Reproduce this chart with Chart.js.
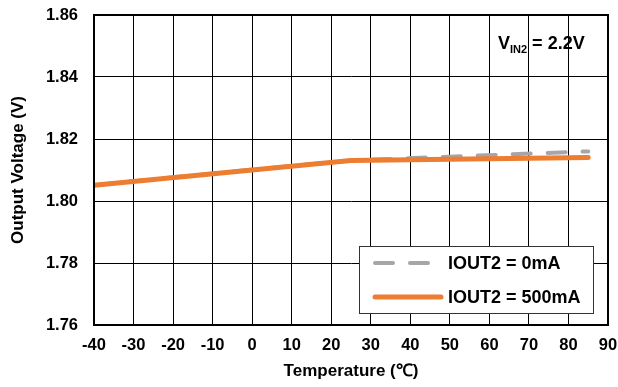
<!DOCTYPE html>
<html>
<head>
<meta charset="utf-8">
<script src="https://cdn.jsdelivr.net/npm/chart.js@4.4.0/dist/chart.umd.min.js"></script>
<style>
  html, body { margin: 0; padding: 0; background: #fff; }
  #wrap { width: 618px; height: 387px; position: relative; }
</style>
</head>
<body>
<div id="wrap"><canvas id="grafico"></canvas></div>
<script>
// dados
const temps0mA = [-40, 0, 25, 85];
const volts0mA = [1.8051, 1.8101, 1.8131, 1.8160];
const temps500mA = [-40, 0, 25, 85];
const volts500mA = [1.8051, 1.8100, 1.8131, 1.8140];

const xMin = -40, xMax = 90, xStep = 10;
const yMin = 1.76, yMax = 1.86, yStep = 0.02;

const FONTE = "'Liberation Sans', Arial, sans-serif";

function pontos(xs, ys) {
  return xs.map((x, i) => ({ x: x, y: ys[i] }));
}

// moldura, legenda dentro da área do gráfico + anotação VIN2
const legendaInterna = {
  id: "legendaInterna",
  afterDraw(chart) {
    const ctx = chart.ctx;
    const a = chart.chartArea;
    ctx.save();

    // moldura
    ctx.strokeStyle = "#000";
    ctx.lineWidth = 2;
    ctx.strokeRect(a.left, a.top, a.right - a.left, a.bottom - a.top);

    // caixa da legenda
    const bx = 359, by = 246, bw = 234, bh = 67;
    ctx.fillStyle = "#fff";
    ctx.fillRect(bx, by, bw, bh);
    ctx.strokeStyle = "#333";
    ctx.lineWidth = 1;
    ctx.strokeRect(bx + 0.5, by + 0.5, bw, bh);

    ctx.font = "bold 18px " + FONTE;
    ctx.textBaseline = "middle";
    ctx.fillStyle = "#000";
    chart.data.datasets.forEach((ds, i) => {
      const yy = by + 17 + i * 34;
      ctx.beginPath();
      ctx.strokeStyle = ds.borderColor;
      ctx.lineWidth = ds.borderWidth;
      ctx.lineCap = "round";
      ctx.setLineDash(ds.borderDash || []);
      ctx.moveTo(375, yy);
      ctx.lineTo(i === 0 ? 429 : 441, yy);
      ctx.stroke();
      ctx.setLineDash([]);
      ctx.fillText(ds.label, 448, yy + 1);
    });

    // VIN2 = 2.2V
    ctx.textBaseline = "alphabetic";
    ctx.font = "bold 18px " + FONTE;
    let x = 498;
    const base = 49;
    ctx.fillText("V", x, base);
    x += ctx.measureText("V").width;
    ctx.font = "bold 11px " + FONTE;
    ctx.fillText("IN2", x, base + 4);
    x += ctx.measureText("IN2").width;
    ctx.font = "bold 18px " + FONTE;
    ctx.fillText(" = 2.2V", x, base);

    ctx.restore();
  }
};

const chart = new Chart(document.getElementById("grafico"), {
  type: "line",
  data: {
    datasets: [
      {
        label: "IOUT2 = 0mA",
        data: pontos(temps0mA, volts0mA),
        borderColor: "#A6A6A6",
        borderWidth: 4,
        borderDash: [18, 17],
        borderCapStyle: "round",
        pointRadius: 0,
        tension: 0,
        order: 2
      },
      {
        label: "IOUT2 = 500mA",
        data: pontos(temps500mA, volts500mA),
        borderColor: "#ED7D31",
        borderWidth: 5,
        borderCapStyle: "round",
        pointRadius: 0,
        tension: 0,
        order: 1
      }
    ]
  },
  options: {
    responsive: true,
    maintainAspectRatio: false,
    animation: false,
    layout: { padding: { top: 15, right: 10, left: 0, bottom: 0 } },
    plugins: { legend: { display: false }, tooltip: { enabled: false } },
    scales: {
      x: {
        type: "linear",
        min: xMin, max: xMax,
        ticks: {
          stepSize: xStep,
          color: "#000",
          font: { family: FONTE, size: 16.5, weight: "bold" },
          padding: 11,
          maxRotation: 0
        },
        grid: { color: "#000", lineWidth: 1, drawTicks: false },
        border: { color: "#000", width: 2 },
        title: {
          display: true,
          text: "Temperature (℃)",
          color: "#000",
          font: { family: FONTE, size: 17, weight: "bold" },
          padding: { top: 0, bottom: 5 }
        },
        afterFit(s) {
          s.height = 62;
          s.paddingLeft = 0;
          s.paddingRight = 0;
        }
      },
      y: {
        min: yMin, max: yMax,
        ticks: {
          stepSize: yStep,
          color: "#000",
          font: { family: FONTE, size: 16.5, weight: "bold" },
          padding: 16,
          callback: v => v.toFixed(2)
        },
        grid: { color: "#000", lineWidth: 1, drawTicks: false },
        border: { color: "#000", width: 2 },
        title: {
          display: true,
          text: "Output Voltage (V)",
          color: "#000",
          font: { family: FONTE, size: 17, weight: "bold" },
          padding: { top: 8, bottom: 0 }
        },
        afterFit(s) {
          s.width = 94;
          s.paddingTop = 0;
          s.paddingBottom = 0;
        }
      }
    }
  },
  plugins: [legendaInterna]
});
</script>
</body>
</html>
